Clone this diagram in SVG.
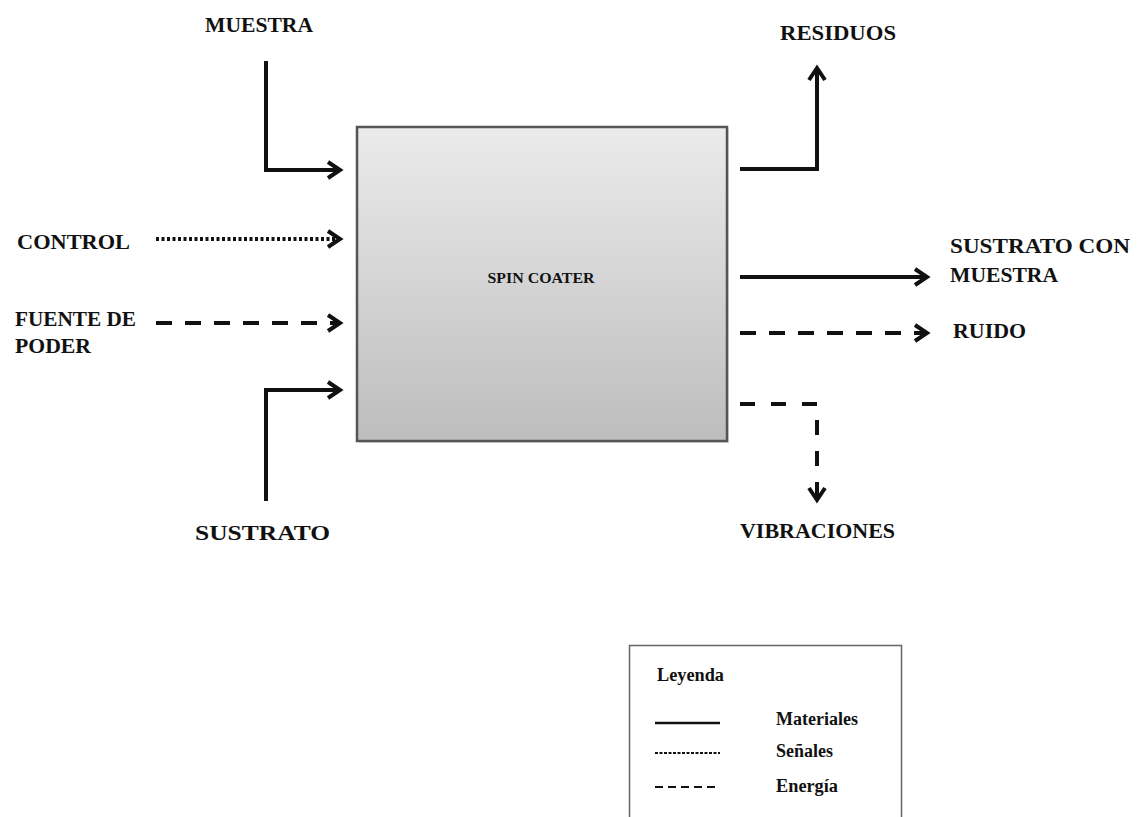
<svg xmlns="http://www.w3.org/2000/svg" width="1138" height="817" viewBox="0 0 1138 817">
<defs>
<linearGradient id="boxg" x1="0" y1="0" x2="0" y2="1">
<stop offset="0" stop-color="#ebebeb"/>
<stop offset="1" stop-color="#bdbdbd"/>
</linearGradient>
<marker id="ah" markerUnits="userSpaceOnUse" markerWidth="20" markerHeight="24" refX="14" refY="10" orient="auto" viewBox="0 0 20 24">
<path d="M2,2 L14,10 L2,18" fill="none" stroke="#111" stroke-width="4" stroke-dasharray="none" stroke-linejoin="miter"/>
</marker>
<style>
.lbl{font-family:"Liberation Serif","Times New Roman",serif;font-weight:bold;font-size:22px;fill:#111}
.leg{font-family:"Liberation Serif","Times New Roman",serif;font-weight:bold;font-size:18px;fill:#111}
.c{fill:none;stroke:#111;stroke-width:4}
.sol{}
.dot{stroke-dasharray:3 2.5}
.dash{stroke-dasharray:16 13}
</style>
</defs>
<rect width="1138" height="817" fill="#fff"/>
<g id="spin-coater">
<rect x="359" y="129" width="370" height="314" fill="#ccc" opacity="0.6"/>
<rect x="357" y="127" width="370" height="314" fill="url(#boxg)" stroke="#555" stroke-width="2.5"/>
<text x="541" y="283" text-anchor="middle" class="lbl" style="font-size:15px" textLength="107" lengthAdjust="spacingAndGlyphs">SPIN COATER</text>
</g>
<g id="connectors">
<path class="c sol" d="M266,61 V170 H340" marker-end="url(#ah)"/>
<path class="c dot" d="M156,239 H340" marker-end="url(#ah)"/>
<path class="c dash" d="M156,323 H340" marker-end="url(#ah)"/>
<path class="c sol" d="M266,501 V390 H340" marker-end="url(#ah)"/>
<path class="c sol" d="M740,169 H817 V68" marker-end="url(#ah)"/>
<path class="c sol" d="M740,277 H927" marker-end="url(#ah)"/>
<path class="c dash" d="M740,333 H927" marker-end="url(#ah)"/>
<path class="c dash" style="stroke-dasharray:15 16" d="M740,404 H817 V500" marker-end="url(#ah)"/>
</g>
<g id="muestra"><text class="lbl" x="205" y="32" textLength="108" lengthAdjust="spacingAndGlyphs">MUESTRA</text></g>
<g id="control"><text class="lbl" x="17" y="249" textLength="113" lengthAdjust="spacingAndGlyphs">CONTROL</text></g>
<g id="fuente"><text class="lbl" x="15" y="326" textLength="121" lengthAdjust="spacingAndGlyphs">FUENTE DE</text><text class="lbl" x="15" y="353" textLength="76" lengthAdjust="spacingAndGlyphs">PODER</text></g>
<g id="sustrato"><text class="lbl" x="195" y="540" textLength="135" lengthAdjust="spacingAndGlyphs">SUSTRATO</text></g>
<g id="residuos"><text class="lbl" x="780" y="40" textLength="116" lengthAdjust="spacingAndGlyphs">RESIDUOS</text></g>
<g id="sustrato-con-muestra"><text class="lbl" x="950" y="253" textLength="180" lengthAdjust="spacingAndGlyphs">SUSTRATO CON</text><text class="lbl" x="950" y="282" textLength="108" lengthAdjust="spacingAndGlyphs">MUESTRA</text></g>
<g id="ruido"><text class="lbl" x="953" y="338" textLength="73" lengthAdjust="spacingAndGlyphs">RUIDO</text></g>
<g id="vibraciones"><text class="lbl" x="740" y="538" textLength="155" lengthAdjust="spacingAndGlyphs">VIBRACIONES</text></g>
<g id="legend">
<rect x="629.5" y="645.5" width="272" height="180" fill="#fff" stroke="#666" stroke-width="1.5"/>
<text class="leg" x="657" y="681" textLength="67" lengthAdjust="spacingAndGlyphs">Leyenda</text>
<line x1="655" y1="723" x2="720" y2="723" stroke="#111" stroke-width="2.5"/>
<line x1="655" y1="753" x2="720" y2="753" stroke="#111" stroke-width="2" stroke-dasharray="3 1.5"/>
<line x1="655" y1="787" x2="720" y2="787" stroke="#111" stroke-width="2" stroke-dasharray="8 5"/>
<text class="leg" x="776" y="725" textLength="82" lengthAdjust="spacingAndGlyphs">Materiales</text>
<text class="leg" x="776" y="757" textLength="57" lengthAdjust="spacingAndGlyphs">Señales</text>
<text class="leg" x="776" y="792" textLength="62" lengthAdjust="spacingAndGlyphs">Energía</text>
</g>
</svg>
